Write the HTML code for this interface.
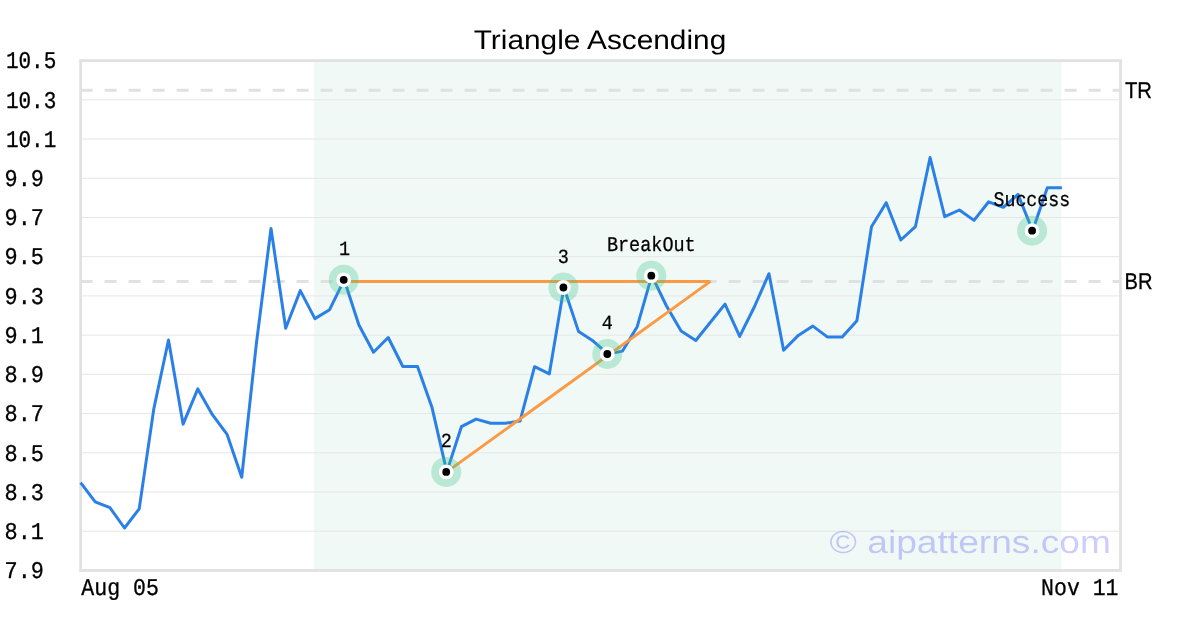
<!DOCTYPE html>
<html><head><meta charset="utf-8"><title>Triangle Ascending</title>
<style>
html,body{margin:0;padding:0;background:#fff;}
body{width:1200px;height:630px;overflow:hidden;font-family:"Liberation Sans",sans-serif;}
svg{display:block;will-change:transform;}
text{text-rendering:geometricPrecision;}
.mono{font-family:"Liberation Mono",monospace;}
.sans{font-family:"Liberation Sans",sans-serif;}
</style></head>
<body>
<svg width="1200" height="630" viewBox="0 0 1200 630">
<rect width="1200" height="630" fill="#fff"/>
<rect x="314" y="60.6" width="747.4" height="509.85" fill="#2aa876" fill-opacity="0.07"/>
<g stroke="#e6e6e6" stroke-width="1.0"><line x1="80.6" x2="1120.5" y1="99.82" y2="99.82"/><line x1="80.6" x2="1120.5" y1="139.04" y2="139.04"/><line x1="80.6" x2="1120.5" y1="178.26" y2="178.26"/><line x1="80.6" x2="1120.5" y1="217.48" y2="217.48"/><line x1="80.6" x2="1120.5" y1="256.70" y2="256.70"/><line x1="80.6" x2="1120.5" y1="295.92" y2="295.92"/><line x1="80.6" x2="1120.5" y1="335.13" y2="335.13"/><line x1="80.6" x2="1120.5" y1="374.35" y2="374.35"/><line x1="80.6" x2="1120.5" y1="413.57" y2="413.57"/><line x1="80.6" x2="1120.5" y1="452.79" y2="452.79"/><line x1="80.6" x2="1120.5" y1="492.01" y2="492.01"/><line x1="80.6" x2="1120.5" y1="531.23" y2="531.23"/></g>
<g stroke="#e1e1e1" stroke-width="3" stroke-dasharray="12 12" fill="none">
<line x1="80.6" x2="1120.5" y1="90.3" y2="90.3"/><line x1="80.6" x2="1120.5" y1="281.4" y2="281.4"/></g>
<rect x="80.6" y="60.6" width="1039.9" height="509.85" fill="none" stroke="#e1e1e1" stroke-width="2.8"/>
<polyline points="80.6,482.7 95.2,501.8 109.9,507.6 124.5,528.0 139.2,508.9 153.8,408.9 168.5,340.0 183.1,424.2 197.8,388.9 212.4,414.7 227.1,434.4 241.7,477.3 256.4,343.3 271.0,228.5 285.7,328.3 300.3,290.6 314.9,318.6 329.6,309.7 344.2,279.8 358.9,325.0 373.5,352.2 388.2,337.5 402.8,366.5 417.5,366.5 432.1,407.8 446.8,471.9 461.4,426.7 476.1,419.1 490.7,423.3 505.3,423.3 520.0,421.1 534.6,366.7 549.3,373.9 563.9,287.5 578.6,331.6 593.2,341.1 607.9,354.0 622.5,351.1 637.2,326.7 651.8,275.7 666.5,306.0 681.1,331.0 695.8,340.5 710.4,322.3 725.0,304.1 739.7,336.4 754.3,307.0 769.0,273.7 783.6,350.3 798.3,335.4 812.9,326.1 827.6,337.1 842.2,337.1 856.9,320.7 871.5,226.7 886.2,202.7 900.8,240.0 915.4,226.7 930.1,157.5 944.7,216.7 959.4,210.0 974.0,220.4 988.7,201.8 1003.3,207.3 1018.0,194.4 1032.6,230.7 1047.3,187.8 1061.9,187.8" fill="none" stroke="#2a80e6" stroke-width="3" stroke-linejoin="round" stroke-linecap="butt"/>
<g stroke="#fb9a44" stroke-width="3" fill="none" stroke-linecap="butt">
<line x1="344.2" y1="281.4" x2="710.4" y2="281.4"/>
<line x1="446.8" y1="471.9" x2="710.4" y2="281.4"/></g>
<g fill="#3cc48c" fill-opacity="0.3"><circle cx="343.7" cy="279.8" r="15"/><circle cx="446.2" cy="471.9" r="15"/><circle cx="563.4" cy="287.5" r="15"/><circle cx="607.3" cy="354.0" r="15"/><circle cx="651.3" cy="275.7" r="15"/><circle cx="1032.1" cy="230.7" r="15"/></g>
<circle cx="343.7" cy="279.8" r="7.4" fill="#fff"/><circle cx="343.7" cy="279.8" r="3.9" fill="#000"/><circle cx="446.2" cy="471.9" r="7.4" fill="#fff"/><circle cx="446.2" cy="471.9" r="3.9" fill="#000"/><circle cx="563.4" cy="287.5" r="7.4" fill="#fff"/><circle cx="563.4" cy="287.5" r="3.9" fill="#000"/><circle cx="607.3" cy="354.0" r="7.4" fill="#fff"/><circle cx="607.3" cy="354.0" r="3.9" fill="#000"/><circle cx="651.3" cy="275.7" r="7.4" fill="#fff"/><circle cx="651.3" cy="275.7" r="3.9" fill="#000"/><circle cx="1032.1" cy="230.7" r="7.4" fill="#fff"/><circle cx="1032.1" cy="230.7" r="3.9" fill="#000"/>
<g class="mono" text-anchor="middle" fill="#000" stroke="#000" stroke-width="0.25"><text x="344.6" y="255.0" font-size="20" textLength="11.10" lengthAdjust="spacingAndGlyphs">1</text><text x="446.2" y="447.1" font-size="20" textLength="11.10" lengthAdjust="spacingAndGlyphs">2</text><text x="563.4" y="262.7" font-size="20" textLength="11.10" lengthAdjust="spacingAndGlyphs">3</text><text x="607.3" y="329.2" font-size="20" textLength="11.10" lengthAdjust="spacingAndGlyphs">4</text><text x="651.3" y="250.9" font-size="20.8" textLength="88.80" lengthAdjust="spacingAndGlyphs">BreakOut</text><text x="1031.8" y="205.9" font-size="20.8" textLength="76.60" lengthAdjust="spacingAndGlyphs">Success</text></g>
<text class="sans" x="1111" y="552.7" font-size="32" text-anchor="end" textLength="281.5" lengthAdjust="spacingAndGlyphs" fill="#0000ff" fill-opacity="0.2">© aipatterns.com</text>
<g class="mono" font-size="24" fill="#000" stroke="#000" stroke-width="0.3"><text x="5.9" y="68.3" textLength="50.40" lengthAdjust="spacingAndGlyphs">10.5</text><text x="5.9" y="107.5" textLength="50.40" lengthAdjust="spacingAndGlyphs">10.3</text><text x="5.9" y="146.7" textLength="50.40" lengthAdjust="spacingAndGlyphs">10.1</text><text x="4.6" y="186.0" textLength="39.40" lengthAdjust="spacingAndGlyphs">9.9</text><text x="4.6" y="225.2" textLength="39.40" lengthAdjust="spacingAndGlyphs">9.7</text><text x="4.6" y="264.4" textLength="39.40" lengthAdjust="spacingAndGlyphs">9.5</text><text x="4.6" y="303.6" textLength="39.40" lengthAdjust="spacingAndGlyphs">9.3</text><text x="4.6" y="342.8" textLength="39.40" lengthAdjust="spacingAndGlyphs">9.1</text><text x="4.6" y="382.1" textLength="39.40" lengthAdjust="spacingAndGlyphs">8.9</text><text x="4.6" y="421.3" textLength="39.40" lengthAdjust="spacingAndGlyphs">8.7</text><text x="4.6" y="460.5" textLength="39.40" lengthAdjust="spacingAndGlyphs">8.5</text><text x="4.6" y="499.7" textLength="39.40" lengthAdjust="spacingAndGlyphs">8.3</text><text x="4.6" y="538.9" textLength="39.40" lengthAdjust="spacingAndGlyphs">8.1</text><text x="4.6" y="578.2" textLength="39.40" lengthAdjust="spacingAndGlyphs">7.9</text>
<text x="81.3" y="594.8" textLength="77.6" lengthAdjust="spacingAndGlyphs">Aug 05</text>
<text x="1118.5" y="594.8" text-anchor="end" textLength="77.4" lengthAdjust="spacingAndGlyphs">Nov 11</text></g>
<g class="sans" font-size="22.8" fill="#000" stroke="#000" stroke-width="0.3"><text x="1125" y="98" textLength="27" lengthAdjust="spacingAndGlyphs">TR</text><text x="1124.6" y="289" textLength="28" lengthAdjust="spacingAndGlyphs">BR</text></g>
<text class="sans" x="600" y="48.8" font-size="27" text-anchor="middle" textLength="252.5" lengthAdjust="spacingAndGlyphs" fill="#000">Triangle Ascending</text>
</svg>
</body></html>
